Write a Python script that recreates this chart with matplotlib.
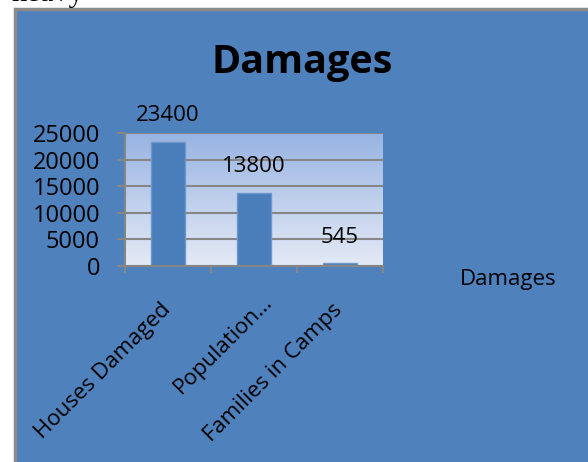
import numpy as np
import matplotlib.pyplot as plt
from matplotlib.patches import Rectangle
from matplotlib.transforms import ScaledTranslation

plt.rcParams['font.family'] = ['Open Sans', 'DejaVu Sans']

categories = ['Houses Damaged', 'Population…', 'Families in Camps']
values = [23400, 13800, 545]
yticks = [0, 5000, 10000, 15000, 20000, 25000]

BLUE = '#4F81BD'
GRAY = '#868686'

fig = plt.figure(figsize=(5.88, 4.62), dpi=100)
fig.patch.set_facecolor('white')

# chart frame (runs off the right and bottom edges)
frame = Rectangle((15 / 588, -0.05), 1.0, 1 - 9 / 462 + 0.05, transform=fig.transFigure,
                  facecolor=BLUE, edgecolor='#8a8a8a', linewidth=2.5, zorder=-1)
fig.patches.append(frame)

# clipped text from the page above the chart
fig.text(12 / 588, 1 - 1 / 462, 'heavy', family='Liberation Serif', fontsize=22,
         ha='left', va='baseline', color='black')

ax = fig.add_axes([125 / 588, 196 / 462, 258 / 588, 133 / 462])
ax.set_zorder(2)
ax.set_facecolor('none')

x = np.arange(len(categories))
ax.set_xlim(-0.5, len(categories) - 0.5)

# gradient plot area, darker at the top
grad = np.linspace(0, 1, 256).reshape(-1, 1)
top = np.array([152, 180, 226]) / 255
bot = np.array([228, 234, 246]) / 255
img = top + (bot - top) * grad[:, :, None]
ax.imshow(img, extent=[-0.5, len(categories) - 0.5, 0, 25000], origin='upper',
          aspect='auto', zorder=0)
ax.set_ylim(0, 25000)

for t in yticks:
    ax.axhline(t, color=GRAY, linewidth=1.5, zorder=1)

ax.bar(x, values, width=0.4, color='#4A7EBB', edgecolor='#6E97CB', linewidth=1, zorder=2)

for xi, v in zip(x, values):
    ax.annotate(str(v), (xi, v), xytext=(0, 26), textcoords='offset pixels',
                ha='center', va='center', fontsize=16, color='black')

ax.set_yticks(yticks)
ax.set_yticklabels([str(t) for t in yticks], fontsize=17)
ax.set_xticks(np.arange(len(categories) + 1) - 0.5, minor=False)
ax.set_xticklabels([])
ax.set_xticks(x, minor=True)
ax.set_xticklabels(categories, minor=True, rotation=45, ha='right',
                   rotation_mode='anchor', fontsize=16)
ax.tick_params(axis='x', which='minor', length=0, pad=22)
ax.tick_params(axis='x', which='major', length=5, width=1.5, color=GRAY)
ax.tick_params(axis='y', length=6, width=1.5, color=GRAY, pad=12)

lbls = ax.get_xticklabels(minor=True)
for i, lb in enumerate(lbls):
    dx = 0.08 if i == 1 else -0.08
    lb.set_transform(lb.get_transform() + ScaledTranslation(dx, -0.03 + (0.08 if i == 1 else 0),
                                                            fig.dpi_scale_trans))

for side in ['top', 'right']:
    ax.spines[side].set_visible(False)
ax.spines['left'].set_color(GRAY)
ax.spines['left'].set_linewidth(1.5)
ax.spines['bottom'].set_color(GRAY)
ax.spines['bottom'].set_linewidth(1.5)

fig.text(302 / 588, 1 - 62 / 462, 'Damages', fontsize=28.5, fontweight='bold',
         ha='center', va='center', color='black')
fig.text(508 / 588, 1 - 280 / 462, 'Damages', fontsize=16,
         ha='center', va='center', color='black')

fig.savefig('out.png', dpi=100, facecolor='white')
